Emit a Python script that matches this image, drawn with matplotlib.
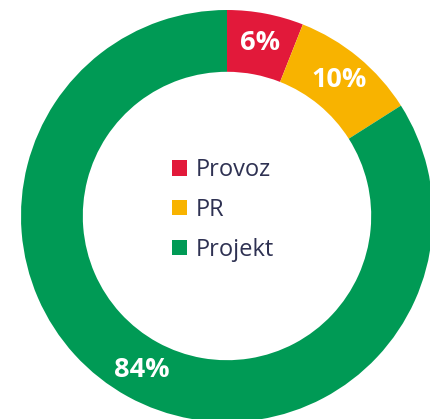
import matplotlib
matplotlib.use("Agg")
import matplotlib.pyplot as plt
from matplotlib.patches import Patch

categories = ["Provoz", "PR", "Projekt"]
values = [6, 10, 84]
colors = ["#E2193A", "#F8B300", "#009A55"]

W, H = 430, 419
fig = plt.figure(figsize=(W / 100, H / 100), dpi=100)
ax = fig.add_axes([0, 0, 1, 1])

cx, cy, R = 227, H - 216, 206
wedges, texts, autotexts = ax.pie(
    values, colors=colors, startangle=90, counterclock=False,
    center=(cx, cy), radius=R, frame=True,
    wedgeprops=dict(width=R * 0.3, linewidth=0),
    autopct=lambda p: f"{p:.0f}%", pctdistance=0.855,
    textprops=dict(color="white", fontsize=19.5, fontweight="bold", family="Open Sans"),
)
ax.set_xlim(0, W)
ax.set_ylim(0, H)
ax.set_aspect("equal")
ax.axis("off")

handles = [Patch(facecolor=c, edgecolor="none") for c in colors]
leg = ax.legend(handles, categories, loc="center left",
                bbox_to_anchor=(172 / W, 1 - 210 / H), frameon=False,
                handlelength=0.62, handleheight=0.62, handletextpad=0.4,
                labelspacing=0.66, borderpad=0, borderaxespad=0,
                prop=dict(family="Open Sans", size=17))
for t in leg.get_texts():
    t.set_color("#2E3152")

fig.savefig("out.png", dpi=100, facecolor="white")
